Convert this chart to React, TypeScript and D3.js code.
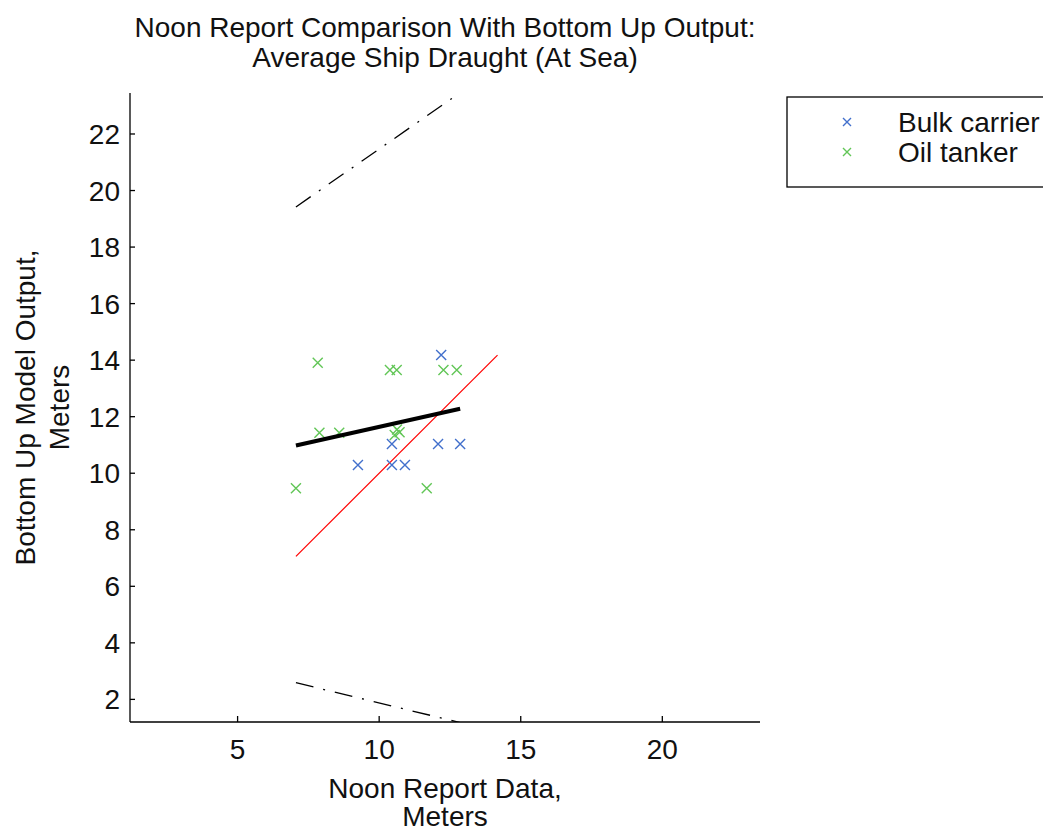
import React from "react";
import * as d3 from "d3";

const bulkX = [12.19, 10.45, 12.08, 12.86, 9.25, 10.45, 10.91];
const bulkY = [14.18, 11.03, 11.03, 11.03, 10.29, 10.29, 10.29];
const tankerX = [7.83, 10.38, 10.62, 12.27, 12.74, 7.89, 8.59, 10.55, 10.72, 10.63, 7.06, 11.68];
const tankerY = [13.91, 13.65, 13.65, 13.65, 13.65, 11.43, 11.43, 11.35, 11.45, 11.55, 9.47, 9.47];

const lineX = [7.06, 12.86];
const fitY = [10.98, 12.28];
const upperY = [19.42, 23.46];
const lowerY = [2.59, 1.18];
const refXY = [7.06, 14.18];

const xTicks = [5, 10, 15, 20];
const yTicks = [2, 4, 6, 8, 10, 12, 14, 16, 18, 20, 22];
const titleLines = ["Noon Report Comparison With Bottom Up Output:", "Average Ship Draught (At Sea)"];
const xLabelLines = ["Noon Report Data,", "Meters"];
const yLabelLines = ["Bottom Up Model Output,", "Meters"];
const legendNames = ["Bulk carrier", "Oil tanker"];

const BLUE = "#4270cc";
const GREEN = "#62c657";
const FONT = "'Liberation Sans', Arial, sans-serif";

export default function App() {
  const W = 1043, H = 833;
  const left = 130, right = 760, top = 93, bottom = 722;
  const x = d3.scaleLinear().domain([1.2, 23.45]).range([left, right]);
  const y = d3.scaleLinear().domain([1.2, 23.45]).range([bottom, top]);
  const line = d3.line<[number, number]>().x(d => x(d[0])).y(d => y(d[1]));
  const pts = (ys: number[]) => lineX.map((v, i) => [v, ys[i]] as [number, number]);
  const cross = (cx: number, cy: number, r: number, color: string, key: string) => (
    <path key={key} d={`M${cx - r},${cy - r}L${cx + r},${cy + r}M${cx - r},${cy + r}L${cx + r},${cy - r}`} stroke={color} strokeWidth={1.4} fill="none" />
  );
  const fs = 28;
  return (
    <svg width={W} height={H} style={{ position: "absolute", left: 0, top: 0, background: "#fff" }} fontFamily={FONT}>
      <rect x={0} y={0} width={W} height={H} fill="#fff" />
      <defs>
        <clipPath id="plotclip">
          <rect x={left} y={top} width={right - left} height={bottom - top} />
        </clipPath>
      </defs>
      <g clipPath="url(#plotclip)">
        <path d={line(pts(upperY)) || ""} stroke="#000" strokeWidth={1.3} fill="none" strokeDasharray="18 10 2 10" />
        <path d={line(pts(lowerY)) || ""} stroke="#000" strokeWidth={1.3} fill="none" strokeDasharray="18 10 2 10" />
        <path d={line([[refXY[0], refXY[0]], [refXY[1], refXY[1]]]) || ""} stroke="#ff0000" strokeWidth={1.2} fill="none" />
        {bulkX.map((v, i) => cross(x(v), y(bulkY[i]), 5, BLUE, "b" + i))}
        {tankerX.map((v, i) => cross(x(v), y(tankerY[i]), 5, GREEN, "t" + i))}
        <path d={line(pts(fitY)) || ""} stroke="#000" strokeWidth={4} fill="none" />
      </g>
      <line x1={left} x2={left} y1={top} y2={bottom} stroke="#000" strokeWidth={1.3} />
      <line x1={left} x2={right} y1={bottom} y2={bottom} stroke="#000" strokeWidth={1.3} />
      {xTicks.map(t => (
        <g key={"xt" + t}>
          <line x1={x(t)} x2={x(t)} y1={bottom} y2={bottom - 6} stroke="#000" strokeWidth={1.3} />
          <text x={x(t)} y={759} textAnchor="middle" fontSize={fs} fill="#111">{t}</text>
        </g>
      ))}
      {yTicks.map(t => (
        <g key={"yt" + t}>
          <line x1={left} x2={left + 5} y1={y(t)} y2={y(t)} stroke="#000" strokeWidth={1.3} />
          <text x={120} y={y(t) + 10} textAnchor="end" fontSize={fs} fill="#111">{t}</text>
        </g>
      ))}
      {titleLines.map((s, i) => (
        <text key={"ti" + i} x={(left + right) / 2} y={37 + i * 30} textAnchor="middle" fontSize={fs} fill="#111">{s}</text>
      ))}
      {xLabelLines.map((s, i) => (
        <text key={"xl" + i} x={(left + right) / 2} y={798 + i * 28} textAnchor="middle" fontSize={fs} fill="#111">{s}</text>
      ))}
      {yLabelLines.map((s, i) => (
        <text key={"yl" + i} transform={`translate(${35 + i * 34},${(top + bottom) / 2}) rotate(-90)`} textAnchor="middle" fontSize={fs} fill="#111">{s}</text>
      ))}
      <rect x={787} y={97} width={300} height={90} fill="#fff" stroke="#000" strokeWidth={1.3} />
      {legendNames.map((s, i) => (
        <g key={"lg" + i}>
          {cross(847, 122 + i * 30, 4, i === 0 ? BLUE : GREEN, "lm" + i)}
          <text x={898} y={132 + i * 30} fontSize={fs} fill="#111">{s}</text>
        </g>
      ))}
    </svg>
  );
}
